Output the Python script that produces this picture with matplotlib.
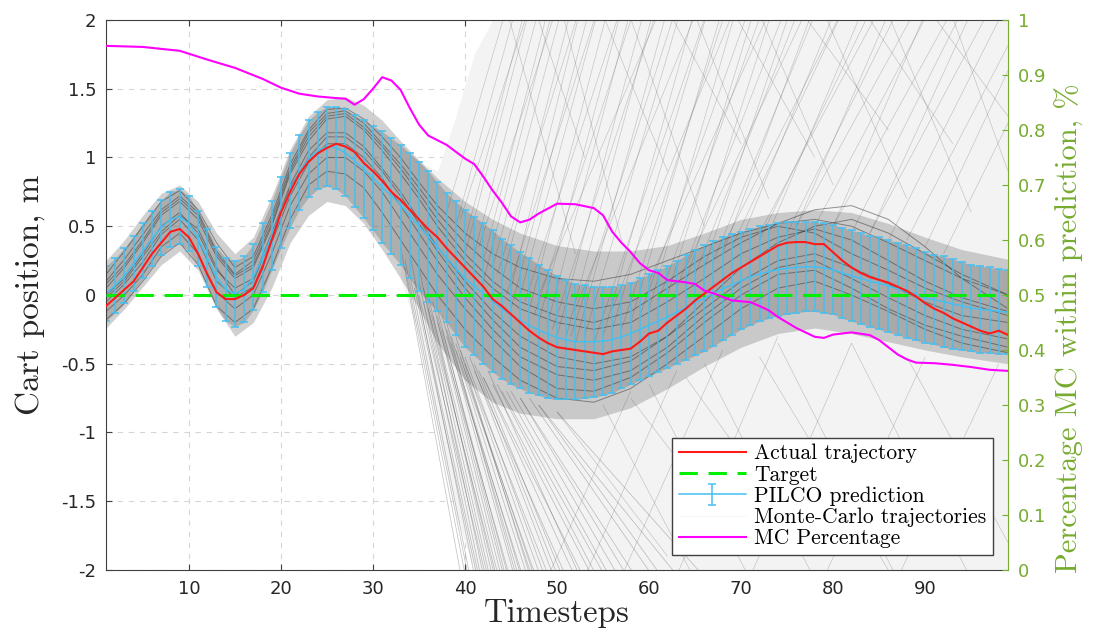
import numpy as np
import matplotlib
matplotlib.use("Agg")
import matplotlib.pyplot as plt
from matplotlib.lines import Line2D
from matplotlib.font_manager import FontProperties

OLIVE = "#77ac30"
CYAN = "#45bff0"
GREY_TXT = "#262626"
SERIF = "cmr10"

# timesteps of the rollout
steps = np.arange(1, 100)

# actual cart position (m), one value per step
actual = [
    -0.08, -0.02, 0.04, 0.1, 0.2, 0.3, 0.38, 0.46, 0.48, 0.42,
    0.3, 0.15, 0.02, -0.03, -0.03, 0.0, 0.05, 0.2, 0.4, 0.6,
    0.75, 0.88, 0.97, 1.03, 1.07, 1.1, 1.08, 1.04, 0.96, 0.9,
    0.83, 0.75, 0.69, 0.62, 0.55, 0.48, 0.42, 0.34, 0.27, 0.2,
    0.13, 0.06, -0.03, -0.08, -0.14, -0.2, -0.26, -0.31, -0.35, -0.38,
    -0.39, -0.4, -0.41, -0.42, -0.43, -0.41, -0.4, -0.39, -0.34, -0.28,
    -0.26, -0.2, -0.15, -0.1, -0.04, 0.01, 0.06, 0.11, 0.16, 0.2,
    0.24, 0.28, 0.32, 0.36, 0.38, 0.385, 0.385, 0.37, 0.37, 0.31,
    0.25, 0.2, 0.16, 0.13, 0.11, 0.09, 0.06, 0.03, -0.01, -0.06,
    -0.1, -0.13, -0.17, -0.2, -0.23, -0.26, -0.28, -0.26, -0.29,
]

# PILCO predicted band (upper / lower error bar ends)
pred_hi = [
    0.21, 0.27, 0.34, 0.43, 0.52, 0.61, 0.69, 0.75, 0.77, 0.72,
    0.61, 0.48, 0.35, 0.27, 0.25, 0.28, 0.37, 0.52, 0.68, 0.86,
    1.03, 1.16, 1.27, 1.33, 1.37, 1.37, 1.35, 1.31, 1.27, 1.23,
    1.19, 1.14, 1.09, 1.03, 0.97, 0.9, 0.82, 0.74, 0.68, 0.62,
    0.57, 0.52, 0.47, 0.41, 0.36, 0.31, 0.27, 0.22, 0.18, 0.14,
    0.11, 0.08, 0.07, 0.06, 0.06, 0.06, 0.07, 0.09, 0.12, 0.15,
    0.18, 0.21, 0.25, 0.29, 0.33, 0.36, 0.39, 0.42, 0.44, 0.46,
    0.48, 0.5, 0.51, 0.52, 0.53, 0.53, 0.53, 0.53, 0.52, 0.51,
    0.49, 0.47, 0.45, 0.43, 0.42, 0.4, 0.38, 0.36, 0.34, 0.31,
    0.29, 0.28, 0.26, 0.24, 0.22, 0.21, 0.2, 0.19, 0.18,
]
pred_lo = [
    -0.19, -0.13, -0.06, 0.03, 0.12, 0.21, 0.29, 0.35, 0.37, 0.32,
    0.21, 0.06, -0.09, -0.19, -0.23, -0.2, -0.11, 0.02, 0.18, 0.34,
    0.49, 0.62, 0.71, 0.77, 0.79, 0.77, 0.72, 0.64, 0.56, 0.47,
    0.38, 0.3, 0.22, 0.12, 0.03, -0.05, -0.12, -0.2, -0.29, -0.38,
    -0.44, -0.5, -0.56, -0.61, -0.65, -0.68, -0.71, -0.73, -0.75, -0.76,
    -0.76, -0.76, -0.75, -0.74, -0.73, -0.71, -0.68, -0.65, -0.62, -0.59,
    -0.56, -0.53, -0.5, -0.47, -0.44, -0.41, -0.37, -0.33, -0.29, -0.25,
    -0.22, -0.19, -0.17, -0.15, -0.14, -0.13, -0.12, -0.12, -0.13, -0.14,
    -0.17, -0.19, -0.21, -0.23, -0.25, -0.27, -0.29, -0.31, -0.33, -0.35,
    -0.36, -0.38, -0.39, -0.4, -0.41, -0.42, -0.42, -0.43, -0.43,
]

# fraction of Monte-Carlo rollouts inside the prediction band
pct_t = [1, 5, 9, 12, 15, 18, 20, 22, 24, 26, 27, 28, 29, 30, 31, 32, 33, 34,
         35, 36, 38, 40, 41, 42, 43, 44, 45, 46, 47, 48, 50, 52, 54, 55, 56,
         57, 58, 59, 60, 61, 62, 64, 65, 66, 67, 69, 71, 72, 73, 74, 75, 76,
         77, 78, 79, 80, 82, 84, 85, 86, 87, 88, 89, 91, 93, 95, 97, 99]
pct = [0.953, 0.951, 0.944, 0.928, 0.913, 0.893, 0.877, 0.866, 0.861, 0.858,
       0.857, 0.846, 0.856, 0.875, 0.896, 0.89, 0.873, 0.84, 0.81, 0.79,
       0.773, 0.748, 0.738, 0.715, 0.69, 0.668, 0.643, 0.632, 0.637, 0.648,
       0.666, 0.665, 0.658, 0.645, 0.615, 0.595, 0.578, 0.558, 0.545, 0.54,
       0.527, 0.523, 0.52, 0.508, 0.503, 0.49, 0.487, 0.48, 0.472, 0.46,
       0.45, 0.44, 0.432, 0.424, 0.422, 0.428, 0.432, 0.427, 0.418, 0.405,
       0.392, 0.383, 0.377, 0.376, 0.373, 0.369, 0.364, 0.362]

# Monte-Carlo rollouts: dense band, a few full trajectories, diverging strands
env_t = [1, 3, 5, 7, 9, 11, 13, 15, 17, 19, 21, 23, 25, 27, 29, 31, 33, 35,
         37, 40, 43, 46, 50, 54, 58, 62, 66, 70, 74, 78, 82, 86, 90, 94, 99]
mc_hi = [0.25, 0.4, 0.58, 0.74, 0.8, 0.68, 0.45, 0.3, 0.42, 0.72,
         1.06, 1.3, 1.42, 1.44, 1.38, 1.27, 1.12, 0.98, 0.85, 0.68,
         0.55, 0.45, 0.36, 0.32, 0.32, 0.36, 0.45, 0.55, 0.6, 0.62,
         0.6, 0.52, 0.42, 0.33, 0.26]
mc_lo = [-0.24, -0.1, 0.06, 0.22, 0.32, 0.18, -0.1, -0.3, -0.2, 0.05,
         0.38, 0.58, 0.68, 0.65, 0.52, 0.33, 0.12, -0.1, -0.35, -0.62,
         -0.78, -0.86, -0.9, -0.9, -0.82, -0.68, -0.52, -0.38, -0.28, -0.24,
         -0.28, -0.34, -0.4, -0.45, -0.5]
mc_core = [
    [0.15, 0.32, 0.5, 0.68, 0.76, 0.62, 0.38, 0.2, 0.28, 0.58, 0.95, 1.2, 1.35, 1.36, 1.28, 1.15, 1.0, 0.82,
     0.65, 0.45, 0.3, 0.2, 0.12, 0.1, 0.15, 0.25, 0.35, 0.45, 0.52, 0.55, 0.5, 0.38, 0.25, 0.12, 0.0],
    [0.05, 0.2, 0.38, 0.58, 0.68, 0.55, 0.28, 0.12, 0.2, 0.5, 0.88, 1.12, 1.28, 1.3, 1.2, 1.05, 0.88, 0.7,
     0.5, 0.25, 0.05, -0.1, -0.2, -0.25, -0.2, -0.05, 0.12, 0.3, 0.42, 0.48, 0.4, 0.25, 0.1, -0.02, -0.12],
    [0.0, 0.12, 0.3, 0.5, 0.6, 0.45, 0.18, 0.05, 0.12, 0.45, 0.8, 1.05, 1.18, 1.18, 1.08, 0.92, 0.75, 0.55,
     0.35, 0.1, -0.12, -0.3, -0.45, -0.5, -0.45, -0.3, -0.1, 0.1, 0.25, 0.3, 0.2, 0.08, -0.05, -0.15, -0.2],
    [-0.05, 0.08, 0.24, 0.44, 0.55, 0.4, 0.1, -0.02, 0.06, 0.38, 0.72, 0.96, 1.1, 1.1, 1.0, 0.85, 0.65, 0.45,
     0.25, -0.02, -0.25, -0.45, -0.58, -0.62, -0.55, -0.38, -0.15, 0.05, 0.2, 0.25, 0.12, -0.02, -0.15, -0.25, -0.32],
    [-0.12, 0.0, 0.15, 0.35, 0.45, 0.3, 0.02, -0.1, 0.0, 0.3, 0.65, 0.88, 1.0, 1.0, 0.9, 0.75, 0.55, 0.35,
     0.15, -0.1, -0.32, -0.52, -0.68, -0.7, -0.6, -0.42, -0.2, 0.0, 0.15, 0.18, 0.05, -0.1, -0.22, -0.3, -0.38],
    [-0.18, -0.06, 0.1, 0.28, 0.38, 0.22, -0.08, -0.2, -0.1, 0.2, 0.55, 0.8, 0.9, 0.88, 0.78, 0.6, 0.4, 0.2,
     0.0, -0.25, -0.45, -0.62, -0.75, -0.78, -0.68, -0.5, -0.3, -0.1, 0.05, 0.1, 0.0, -0.12, -0.25, -0.35, -0.42],
    [0.1, 0.26, 0.44, 0.62, 0.72, 0.6, 0.32, 0.15, 0.25, 0.55, 0.92, 1.18, 1.32, 1.34, 1.25, 1.1, 0.95, 0.78,
     0.6, 0.38, 0.2, 0.05, -0.05, -0.1, -0.05, 0.1, 0.28, 0.42, 0.5, 0.45, 0.3, 0.18, 0.05, -0.05, -0.15],
    [-0.02, 0.1, 0.28, 0.46, 0.58, 0.48, 0.2, 0.0, 0.1, 0.42, 0.78, 1.0, 1.15, 1.15, 1.05, 0.9, 0.72, 0.52,
     0.32, 0.05, -0.18, -0.38, -0.52, -0.55, -0.48, -0.3, -0.05, 0.2, 0.38, 0.5, 0.55, 0.45, 0.3, 0.15, 0.0],
    [0.08, 0.22, 0.4, 0.6, 0.7, 0.58, 0.3, 0.14, 0.22, 0.52, 0.9, 1.15, 1.3, 1.32, 1.22, 1.08, 0.92, 0.74,
     0.55, 0.3, 0.1, -0.05, -0.15, -0.2, -0.12, 0.05, 0.22, 0.38, 0.52, 0.62, 0.65, 0.55, 0.35, 0.12, -0.1],
]

# region swept by the diverging rollouts
spread_t = [33, 35, 37, 39, 41, 43, 45, 99]
spread_hi = [1.1, 0.97, 0.9, 1.3, 1.75, 2.0, 2.0, 2.0]
spread_lo = [0.12, -0.3, -0.95, -1.6, -2.0, -2.0, -2.0, -2.0]

# rollouts that leave the band downwards (start point, step where they pass -2.2)
down_t0 = [33, 33.5, 34, 34, 34.5, 35, 35, 35.5, 36, 36, 36.5, 37, 37, 37.5, 38, 38,
           38.5, 39, 39, 39.5, 40, 40, 41, 41, 42, 42, 43, 44, 45, 46, 47, 48,
           33.5, 34.5, 35, 35.5, 36, 36.5, 37, 37.5, 38, 38.5, 39, 39.5, 40.5, 41.5,
           42.5, 43.5, 44.5, 46, 48, 50]
down_y0 = [0.35, 0.2, 0.15, 0.3, 0.1, 0.2, 0.0, 0.05, 0.0, -0.1, -0.05, -0.1, -0.2, -0.15, -0.25, -0.3,
           -0.3, -0.35, -0.4, -0.4, -0.45, -0.5, -0.5, -0.55, -0.6, -0.6, -0.65, -0.7, -0.7, -0.75, -0.75, -0.8,
           0.25, 0.05, 0.1, -0.05, -0.05, -0.15, -0.15, -0.25, -0.2, -0.35, -0.3, -0.45, -0.45, -0.55,
           -0.55, -0.65, -0.7, -0.75, -0.8, -0.85]
down_t1 = [40.0, 40.5, 41.0, 41.5, 42.0, 42.5, 42.8, 43.2, 43.5, 44.0, 44.5, 45.0, 45.5, 46.0, 46.5, 47.0,
           47.5, 48.0, 48.5, 49.0, 49.5, 50.0, 51.0, 52.0, 53.0, 54.0, 55.0, 56.5, 58.0, 60.0, 62.0, 65.0,
           40.8, 41.8, 42.2, 43.0, 43.8, 44.2, 44.8, 45.3, 46.2, 46.8, 47.8, 48.3, 50.5, 51.5,
           53.5, 55.5, 57.0, 59.0, 63.0, 68.0]

# rollouts that leave the band upwards (start point, step where they pass 2.2)
up_t0 = [38, 39, 40, 40, 41, 42, 42, 43, 44, 45, 45, 46, 47, 48, 49, 50,
         51, 52, 53, 55, 56, 58, 60, 62, 64, 66, 68, 70, 73, 76, 80, 84,
         39.5, 41.5, 43.5, 44.5, 46.5, 47.5, 49.5, 51.5, 54, 57, 59,
         61, 63, 65, 67, 69, 72, 75, 78, 82, 86, 90,
         48, 52, 56, 60, 64, 68, 72, 76, 80, 84, 88, 92]
up_y0 = [0.6, 0.5, 0.4, 0.3, 0.3, 0.25, 0.1, 0.2, 0.1, 0.05, -0.1, 0.0, -0.1, -0.2, -0.2, -0.3,
         -0.3, -0.35, -0.3, -0.3, -0.25, -0.2, -0.1, 0.0, 0.1, 0.2, 0.3, 0.4, 0.45, 0.5, 0.5, 0.45,
         0.55, 0.35, 0.15, 0.0, -0.05, -0.15, -0.25, -0.3, -0.35, -0.25, -0.15,
         -0.05, 0.05, 0.15, 0.25, 0.35, 0.4, 0.45, 0.5, 0.45, 0.4, 0.35,
         0.0, -0.1, -0.1, 0.1, 0.2, 0.35, 0.45, 0.5, 0.5, 0.45, 0.4, 0.3]
up_t1 = [45.0, 46.0, 47.0, 47.5, 48.5, 49.5, 50.0, 51.0, 52.0, 53.0, 54.0, 55.0, 56.0, 57.5, 58.5, 60.0,
         61.0, 62.5, 64.0, 65.5, 67.0, 68.5, 70.0, 72.0, 74.0, 76.0, 78.5, 81.0, 84.0, 87.0, 91.0, 96.0,
         47.5, 50.5, 53.0, 55.0, 57.5, 59.0, 61.5, 63.5, 67.0, 69.0, 71.5,
         73.0, 75.5, 77.0, 79.0, 82.0, 85.0, 88.0, 91.5, 95.0, 99.5, 103.0,
         62.0, 66.0, 70.0, 74.0, 78.0, 82.0, 86.0, 90.0, 94.0, 98.0, 102.0, 106.0]

# loose strands crossing the outer regions
cross_t0 = [44, 50, 57, 64, 71, 78, 85, 92, 47, 54, 61, 68, 75, 82, 89,
            48, 52, 56, 62, 70, 78, 86, 55, 60, 66, 74, 82, 88, 50, 58, 64, 72]
cross_y0 = [2.2, 2.2, 2.2, 2.2, 2.2, 2.2, 2.2, 2.2, 2.2, 2.2, 2.2, 2.2, 2.2, 2.2, 2.2,
            -2.2, -2.2, -2.2, -2.2, -2.2, -2.2, -2.2, -0.8, -0.65, -0.5, -0.35, -0.35, -0.45,
            -0.85, -0.75, -0.6, -0.45]
cross_t1 = [52, 57, 66, 73, 80, 88, 95, 99, 53, 62, 70, 78, 86, 93, 99,
            58, 63, 68, 74, 82, 90, 98, 66, 72, 79, 88, 96, 99, 62, 70, 78, 86]
cross_y1 = [0.3, 0.4, 0.5, 0.7, 0.8, 0.7, 0.6, 0.9, 1.0, 0.9, 1.1, 1.0, 1.2, 1.1, 1.3,
            -0.7, -0.55, -0.4, -0.3, -0.35, -0.45, -0.5, -2.2, -2.2, -2.2, -2.2, -2.2, -1.8,
            -1.9, -1.8, -1.9, -2.0]

y_ticks = [-2, -1.5, -1, -0.5, 0, 0.5, 1, 1.5, 2]
y_ticklabels = ["-2", "-1.5", "-1", "-0.5", "0", "0.5", "1", "1.5", "2"]
pct_ticks = [0, 0.1, 0.2, 0.3, 0.4, 0.5, 0.6, 0.7, 0.8, 0.9, 1]
pct_ticklabels = ["0", "0.1", "0.2", "0.3", "0.4", "0.5", "0.6", "0.7", "0.8", "0.9", "1"]
x_ticks = [10, 20, 30, 40, 50, 60, 70, 80, 90]

fig = plt.figure(figsize=(10.99, 6.35), dpi=100)
ax = fig.add_axes([0.0965, 0.1024, 0.8207, 0.8661])
ax2 = ax.twinx()

# --- Monte-Carlo rollouts
mc_kw = dict(color="#3c3c3c", lw=0.5, alpha=0.25, zorder=1.2, solid_capstyle="butt")
ax.fill_between(spread_t, spread_lo, spread_hi, color="#f3f3f3", lw=0, zorder=0.6)
ax.fill_between(env_t, mc_lo, mc_hi, color="#8a8a8a", alpha=0.4, lw=0, zorder=1)
ax.fill_between(steps, pred_lo, pred_hi, color="#4a4a4a", alpha=0.25, lw=0, zorder=1)
for traj in mc_core:
    ax.plot(env_t, traj, color="#303030", lw=0.7, alpha=0.5, zorder=1.3)
for t0, y0, t1 in zip(down_t0, down_y0, down_t1):
    ax.plot([t0, t1], [y0, -2.2], **dict(mc_kw, alpha=0.33))
for t0, y0, t1 in zip(up_t0, up_y0, up_t1):
    ax.plot([t0, t1], [y0, 2.2], **mc_kw)
for t0, y0, t1, y1 in zip(cross_t0, cross_y0, cross_t1, cross_y1):
    ax.plot([t0, t1], [y0, y1], **mc_kw)

# --- PILCO prediction
pred_hi = np.array(pred_hi)
pred_lo = np.array(pred_lo)
pred_mu = (pred_hi + pred_lo) / 2
pred_err = (pred_hi - pred_lo) / 2
eb = ax.errorbar(steps, pred_mu, yerr=pred_err, color=CYAN, lw=1.1,
                 elinewidth=1.1, capsize=3.2, capthick=1.1, zorder=2)

ax.plot(steps, np.zeros_like(steps, dtype=float), color="#00ee00", lw=2.2,
        dashes=(6, 3.5), zorder=3)
ax.plot(steps, actual, color="#ff1a1a", lw=1.5, zorder=4)

ax2.plot(pct_t, pct, color="#ff00ff", lw=1.5, zorder=3)

# --- axes styling
ax.set_xlim(1, 99)
ax.set_ylim(-2, 2)
ax2.set_ylim(0, 1)
ax.set_xticks(x_ticks)
ax.set_yticks(y_ticks)
ax.set_yticklabels(y_ticklabels)
ax2.set_yticks(pct_ticks)
ax2.set_yticklabels(pct_ticklabels)

ax.grid(True, color="#d6d6d6", linestyle=(0, (5, 5)), linewidth=0.8)
ax.set_axisbelow(True)
ax.tick_params(direction="in", top=True, right=False, length=4, width=0.8,
               labelsize=13, labelcolor=GREY_TXT, color="#404040", pad=7)
ax2.tick_params(direction="in", length=4, width=0.8, labelsize=13,
                colors=OLIVE, pad=7)
for side in ("top", "left", "bottom"):
    ax.spines[side].set_color("#404040")
ax.spines["right"].set_visible(False)
ax2.spines["right"].set_color(OLIVE)
for side in ("top", "left", "bottom"):
    ax2.spines[side].set_visible(False)

ax.set_xlabel("Timesteps", fontfamily=SERIF, fontsize=23.5, color=GREY_TXT, labelpad=1)
ax.set_ylabel("Cart position, m", fontfamily=SERIF, fontsize=24, color=GREY_TXT)
ax.yaxis.set_label_coords(-0.068, 0.5)
ax2.set_ylabel("Percentage MC within prediction, %", fontfamily=SERIF, fontsize=22,
               color=OLIVE)
ax2.yaxis.set_label_coords(1.052, 0.44)

handles = [
    Line2D([], [], color="#ff1a1a", lw=1.5),
    Line2D([], [], color="#00ee00", lw=2.2, dashes=(6, 3.5)),
    eb,
    Line2D([], [], color="#3c3c3c", lw=0.6, alpha=0.05),
    Line2D([], [], color="#ff00ff", lw=1.5),
]
labels = ["Actual trajectory", "Target", "PILCO prediction",
          "Monte-Carlo trajectories", "MC Percentage"]
leg = ax2.legend(handles, labels, loc="lower right",
                 prop=FontProperties(family=SERIF, size=15.5),
                 frameon=True, fancybox=False, framealpha=1, edgecolor="#404040",
                 handlelength=3.1, handletextpad=0.4, labelspacing=0.08,
                 borderpad=0.3, borderaxespad=0.7)
leg.get_frame().set_linewidth(1.0)

fig.savefig("out.png", dpi=100)
